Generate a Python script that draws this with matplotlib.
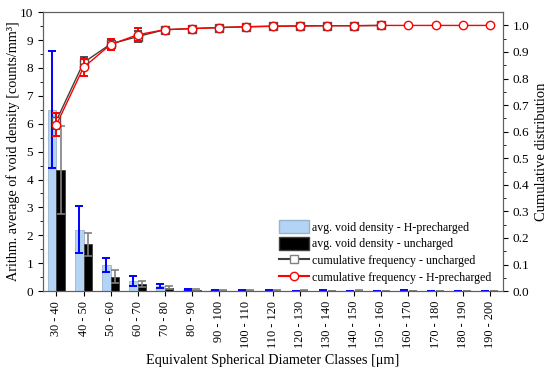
import numpy as np
import matplotlib.pyplot as plt
from matplotlib.lines import Line2D
from matplotlib.patches import Patch

plt.rcParams['font.family'] = ['Liberation Serif', 'DejaVu Serif']

# diameter classes
classes = ['30 - 40', '40 - 50', '50 - 60', '60 - 70', '70 - 80', '80 - 90',
           '90 - 100', '100 - 110', '110 - 120', '120 - 130', '130 - 140',
           '140 - 150', '150 - 160', '160 - 170', '170 - 180', '180 - 190',
           '190 - 200']

# avg. void density [counts/mm^3]
dens_h = [6.5, 2.2, 0.94, 0.37, 0.18, 0.04, 0.03, 0.02, 0.02, 0.0, 0.01,
          0.0, 0.0, 0.01, 0.0, 0.0, 0.0]
dens_h_err = [2.1, 0.85, 0.25, 0.18, 0.08, 0.02, 0.02, 0.02, 0.02, 0.0, 0.02,
              0.0, 0.0, 0.02, 0.0, 0.0, 0.0]
dens_u = [4.35, 1.68, 0.52, 0.24, 0.12, 0.04, 0.02, 0.01, 0.01, 0.01, 0.0,
          0.01, 0.0, 0.0, 0.0, 0.0, 0.0]
dens_u_err = [1.58, 0.42, 0.24, 0.11, 0.05, 0.02, 0.02, 0.02, 0.02, 0.02, 0.0,
              0.02, 0.0, 0.0, 0.0, 0.0, 0.0]

# cumulative distributions
cum_u = [0.642, 0.86, 0.93, 0.958, 0.984, 0.988, 0.992, 0.995, 0.997,
         0.998, 0.999, 0.999, 1.0]
cum_u_err = [0.03, 0.02, 0.02, 0.02, 0.008, 0.006, 0.005, 0.005, 0.005,
             0.005, 0.005, 0.005, 0.005]
cum_h = [0.626, 0.842, 0.928, 0.965, 0.984, 0.988, 0.992, 0.995, 0.997,
         0.998, 0.999, 0.999, 1.0, 1.0, 1.0, 1.0, 1.0]
cum_h_err = [0.043, 0.033, 0.022, 0.025, 0.008, 0.006, 0.005, 0.005, 0.005,
             0.005, 0.005, 0.005, 0.005, 0.0, 0.0, 0.0, 0.0]

light_blue = '#b4d4f5'

fig = plt.figure(figsize=(5.5, 3.68), dpi=100)
ax1 = fig.add_axes([0.078, 0.209, 0.837, 0.758])
ax2 = ax1.twinx()

x = np.arange(len(classes))
w = 0.32
ax1.bar(x - w / 2, dens_h, w, color=light_blue, edgecolor='#9ab4cf', linewidth=0.6,
        yerr=dens_h_err, error_kw=dict(ecolor='#0000ff', elinewidth=1.4, capsize=3, capthick=1.4))
ax1.bar(x + w / 2, dens_u, w, color='black', edgecolor='#404040', linewidth=0.6,
        yerr=dens_u_err, error_kw=dict(ecolor='#808080', elinewidth=1.2, capsize=3, capthick=1.2))

ax1.set_xlim(-0.5, len(classes) - 0.5)
ax1.set_ylim(0, 10)
ax1.set_yticks(np.arange(0, 11, 1))
ax1.set_yticks(np.arange(0, 10.5, 0.5), minor=True)
ax1.set_xticks(x)
ax1.set_xticklabels(classes, rotation=90, fontsize=8.8)
ax1.tick_params(axis='y', labelsize=9.5)
ax1.set_ylabel('Arithm. average of void density [counts/mm³]', fontsize=10.2)
ax1.yaxis.set_label_coords(-0.05, 0.5)
ax1.set_xlabel('Equivalent Spherical Diameter Classes [μm]', fontsize=10.3, labelpad=4)

xu = x[:len(cum_u)]
ax2.errorbar(xu, cum_u, yerr=cum_u_err, color='#404040', lw=1.0, marker='s',
             ms=5.5, mfc='white', mec='#505050', ecolor='#303030', elinewidth=1.2,
             capsize=3, capthick=1.2, zorder=3)
ax2.errorbar(x, cum_h, yerr=cum_h_err, color='#ff0000', lw=1.0, marker='o',
             ms=6, mfc='white', mec='#ff0000', ecolor='#ff0000', elinewidth=1.4,
             capsize=3, capthick=1.4, zorder=4)
ax2.set_ylim(0, 1.05)
ax2.set_yticks(np.arange(0, 1.01, 0.1))
ax2.set_yticks(np.arange(0, 1.04, 0.05), minor=True)
ax2.set_yticklabels(['%.1f' % v for v in np.arange(0, 1.01, 0.1)])
ax2.tick_params(axis='y', labelsize=9.5)
ax2.set_ylabel('Cumulative distribution', fontsize=10.5, labelpad=4)

for s in ['top', 'bottom', 'left', 'right']:
    ax1.spines[s].set_color('#606060')
    ax2.spines[s].set_color('#606060')

handles = [
    Patch(facecolor=light_blue, edgecolor='#9ab4cf'),
    Patch(facecolor='black', edgecolor='#404040'),
    Line2D([], [], color='#404040', marker='s', ms=5.5, mfc='white', mec='#808080'),
    Line2D([], [], color='#ff0000', marker='o', ms=6, mfc='white', mec='#ff0000'),
]
labels = ['avg. void density - H-precharged', 'avg. void density - uncharged',
          'cumulative frequency - uncharged', 'cumulative frequency - H-precharged']
ax2.legend(handles, labels, loc='lower left', bbox_to_anchor=(0.495, -0.005),
           frameon=False, fontsize=8.6, handlelength=2.5, handleheight=1.3,
           handletextpad=0.25, labelspacing=0.28, borderpad=0.2)

fig.savefig('out.png', dpi=100)
